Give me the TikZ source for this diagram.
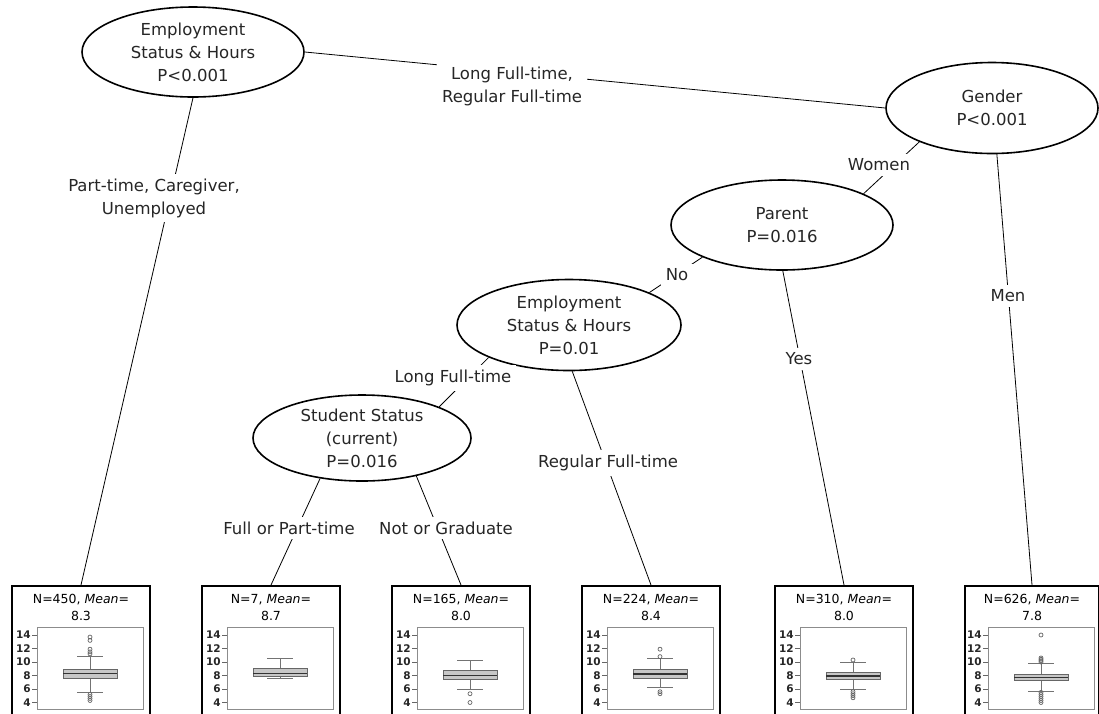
\documentclass[tikz,border=0pt]{standalone}
\usepackage{fontspec}
\setmainfont{DejaVu Sans}
\usetikzlibrary{shapes.geometric,positioning}
\newcommand{\splitfont}{\fontsize{16.5}{23}\selectfont}
\newcommand{\leaffont}{\fontsize{12.5}{17}\selectfont}
\newcommand{\axisfont}{\fontsize{10.5}{10.5}\selectfont\bfseries}

\tikzset{declare function={vy(\v)=635+(14-\v)*6.75;}}

% box plot inside a leaf: centre x, low whisker, q1, median, q3, high whisker, outliers
\newcommand{\bplot}[7]{%
  \begin{scope}[shift={(#1,0)}]
    \draw[plotframe] (-44,627) rectangle (62,709);
    \foreach \v in {4,6,...,14}
      \draw[plottick] (-49,{vy(\v)}) -- (-44,{vy(\v)})
        node[pos=0, anchor=east, inner sep=1pt, font=\axisfont, text=black!85] {\v};
    \draw[whisker] (9,{vy(#5)}) -- (9,{vy(#6)}) (-4,{vy(#6)}) -- (22,{vy(#6)});
    \draw[whisker] (9,{vy(#3)}) -- (9,{vy(#2)}) (-4,{vy(#2)}) -- (22,{vy(#2)});
    \filldraw[iqrbox] (-18,{vy(#3)}) rectangle (36,{vy(#5)});
    \draw[median] (-18,{vy(#4)}) -- (36,{vy(#4)});
    \foreach \o in {#7}
      \draw[outlier] (9,{vy(\o)}) circle (2);
  \end{scope}}

\begin{document}
\begin{tikzpicture}[x=1pt, y=-1pt,
  split/.style={ellipse, draw, line width=1.6pt, inner sep=0pt, align=center,
    font=\splitfont, text=black!85},
  leaf/.style={rectangle, draw, line width=2.4pt, minimum width=138,
    minimum height=150, anchor=north},
  leaftext/.style={align=center, inner sep=1pt, font=\leaffont, text=black},
  cut/.style={fill=white, align=center, inner sep=5pt, font=\splitfont, text=black!85},
  branch/.style={line width=0.8pt},
  plotframe/.style={draw=black!45, line width=0.6pt},
  plottick/.style={black!60, line width=0.6pt},
  whisker/.style={black!55, line width=0.8pt},
  iqrbox/.style={fill=black!22, draw=black!60, line width=0.7pt},
  median/.style={black!80, line width=1.4pt},
  outlier/.style={black!60, line width=0.7pt}]

  \fill[white] (0,0) rectangle (1099,713);
  \useasboundingbox (0,0) rectangle (1099,713);
  \clip (0,0) rectangle (1099,713);

  \node[split, minimum width=222, minimum height=90]
    (empl) at (193,52) {Employment\\Status \& Hours\\P<0.001};
  \node[split, minimum width=212, minimum height=91]
    (gender) at (992,108) {Gender\\P<0.001};
  \node[split, minimum width=222, minimum height=90]
    (parent) at (782,225) {Parent\\P=0.016};
  \node[split, minimum width=224, minimum height=91]
    (emplb) at (569,325) {Employment\\Status \& Hours\\P=0.01};
  \node[split, minimum width=218, minimum height=86]
    (student) at (362,438) {Student Status\\(current)\\P=0.016};

  \node[leaf] (l450) at (81,585) {};
  \node[leaf] (l7) at (271,585) {};
  \node[leaf] (l165) at (461,585) {};
  \node[leaf] (l224) at (651,585) {};
  \node[leaf] (l310) at (844,585) {};
  \node[leaf, minimum width=134] (l626) at (1032,585) {};

  \node[leaftext, below=8pt of l450.north] (t450) {N=450, \textit{Mean}=\\8.3};
  \node[leaftext, below=8pt of l7.north] (t7) {N=7, \textit{Mean}=\\8.7};
  \node[leaftext, below=8pt of l165.north] (t165) {N=165, \textit{Mean}=\\8.0};
  \node[leaftext, below=8pt of l224.north] (t224) {N=224, \textit{Mean}=\\8.4};
  \node[leaftext, below=8pt of l310.north] (t310) {N=310, \textit{Mean}=\\8.0};
  \node[leaftext, below=8pt of l626.north] (t626) {N=626, \textit{Mean}=\\7.8};

  \bplot{81}{5.5}{7.6}{8.3}{8.9}{10.9}{13.7,13.2,11.9,11.5,11.2,5.2,4.9,4.6,4.3}
  \bplot{271}{7.6}{7.9}{8.3}{9.1}{10.5}{}
  \bplot{461}{5.9}{7.5}{8.0}{8.7}{10.3}{5.3,4.0}
  \bplot{651}{6.3}{7.6}{8.2}{8.9}{10.5}{11.9,10.8,5.6,5.3}
  \bplot{844}{5.9}{7.5}{7.9}{8.4}{9.9}{10.3,5.6,5.3,5.0,4.7}
  \bplot{1032}{5.7}{7.3}{7.7}{8.2}{9.8}{14.0,10.6,10.4,10.2,10.0,5.5,5.2,4.9,4.6,4.3,4.0}

  \draw[branch]
    (empl.south) -- (l450.north)
    (empl.east) -- (gender.west)
    (gender.205) -- (parent.21)
    (gender.-84) -- (l626.north)
    (parent.202) -- (emplb.22)
    (parent.-89) -- (l310.north)
    (emplb.202) -- (student.22)
    (emplb.-86) -- (l224.north)
    (student.224) -- (l7.north)
    (student.-35) -- (l165.north);

  \node[cut] (lbpart) at (154,198) {Part-time, Caregiver,\\Unemployed};
  \node[cut] (lbfull) at (512,86) {Long Full-time,\\Regular Full-time};
  \node[cut] (lbwomen) at (879,165) {Women};
  \node[cut] (lbmen) at (1008,296) {Men};
  \node[cut] (lbno) at (677,275) {No};
  \node[cut] (lbyes) at (799,359) {Yes};
  \node[cut] (lblong) at (453,378) {Long Full-time};
  \node[cut] (lbreg) at (608,463) {Regular Full-time};
  \node[cut] (lbfpt) at (289,528) {Full or Part-time};
  \node[cut] (lbnot) at (446,528) {Not or Graduate};
\end{tikzpicture}
\end{document}
